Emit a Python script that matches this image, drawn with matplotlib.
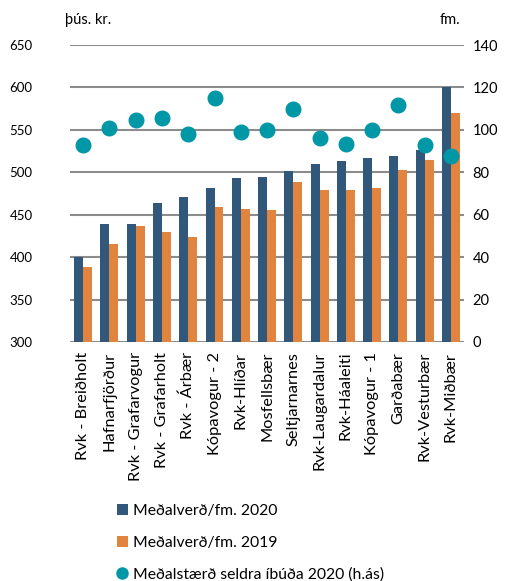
import matplotlib

matplotlib.use("Agg")
import matplotlib.pyplot as plt
from matplotlib.lines import Line2D
import numpy as np

plt.rcParams["font.family"] = ["Lato", "DejaVu Sans"]

categories = [
    "Rvk - Breiðholt", "Hafnarfjörður", "Rvk - Grafarvogur", "Rvk - Grafarholt",
    "Rvk - Árbær", "Kópavogur - 2", "Rvk-Hlíðar", "Mosfellsbær", "Seltjarnarnes",
    "Rvk-Laugardalur", "Rvk-Háaleiti", "Kópavogur - 1", "Garðabær",
    "Rvk-Vesturbær", "Rvk-Miðbær",
]
price_2020 = [400, 439, 439, 464, 471, 482, 493, 494, 502, 510, 513, 517, 519, 526, 600]
price_2019 = [388, 416, 437, 430, 424, 459, 457, 456, 488, 479, 479, 481, 503, 514, 570]
size_2020 = [93, 101, 104.5, 105.5, 98, 115, 99, 100, 110, 96, 93.5, 100, 111.5, 93, 87.5]

blue = "#31577A"
orange = "#E0843F"
teal = "#0097A7"
grid = "#8C8C8C"

fig = plt.figure(figsize=(5.28, 5.81), dpi=100)
ax = fig.add_axes([0.1326, 0.4114, 0.7464, 0.5111])
ax2 = ax.twinx()

x = np.arange(len(categories))
w = 0.34
ax.bar(x - w / 2, price_2020, w, color=blue, label="Meðalverð/fm. 2020", zorder=3)
ax.bar(x + w / 2, price_2019, w, color=orange, label="Meðalverð/fm. 2019", zorder=3)
ax2.plot(x, size_2020, "o", color=teal, markersize=10.5, zorder=4)

ax.set_ylim(300, 650)
ax.set_yticks(range(300, 651, 50))
ax2.set_ylim(0, 140)
ax2.set_yticks(range(0, 141, 20))
ax.set_xlim(-0.5, len(categories) - 0.5)
ax.yaxis.grid(True, color=grid, linewidth=1.5, zorder=0)
ax.set_axisbelow(True)

for a in (ax, ax2):
    for s in a.spines.values():
        s.set_visible(False)
    a.tick_params(length=0)
ax.tick_params(axis="y", pad=27, labelsize=9.5)
ax2.tick_params(axis="y", pad=6, labelsize=10.5)

ax.set_xticks(x)
ax.set_xticklabels(categories, rotation=90, fontsize=11.8, va="top")
ax.tick_params(axis="x", pad=7)

fig.text(65 / 528, 1 - 20 / 581, "þús. kr.", fontsize=10.5, va="center", ha="left")
fig.text(460 / 528, 1 - 20 / 581, "fm.", fontsize=10.5, va="center", ha="right")

handles, labels = ax.get_legend_handles_labels()
handles.append(Line2D([], [], ls="none", marker="o", color=teal, markersize=8))
labels.append("Meðalstærð seldra íbúða 2020 (h.ás)")
fig.legend(handles, labels, loc="upper left", bbox_to_anchor=(117 / 528, 1 - 504 / 581),
           frameon=False, fontsize=11.3, labelspacing=1.12, handlelength=0.7,
           handleheight=0.7, handletextpad=0.3, borderaxespad=0, borderpad=0)

fig.savefig("out.png", dpi=100)
plt.close(fig)
